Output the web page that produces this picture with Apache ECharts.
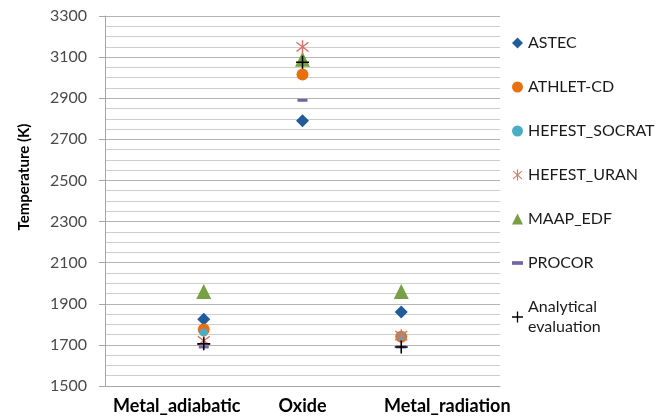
<!DOCTYPE html>
<html><head><meta charset="utf-8">
<script src="https://cdn.jsdelivr.net/npm/echarts@6/dist/echarts.min.js"></script>
<style>html,body{margin:0;padding:0;background:#fff}#c{width:667px;height:416px}</style>
</head><body><div id="c"></div>
<script>
// categories placed at x = 1, 2, 3
const categories = ['Metal_adiabatic', 'Oxide', 'Metal_radiation'];
const seriesNames = ['ASTEC', 'ATHLET-CD', 'HEFEST_SOCRAT', 'HEFEST_URAN', 'MAAP_EDF', 'PROCOR', 'Analytical evaluation'];
const astec = [1825, 2790, 1860];
const athlet = [1775, 3015, 1740];
const socrat = [1760, null, 1740];
const uran = [1720, 3150, 1745];
const maap = [1960, 3090, 1960];
const procor = [1690, 2890, 1690];
const analytical = [1705, 3075, 1690];
const yTicks = [1500, 1700, 1900, 2100, 2300, 2500, 2700, 2900, 3100, 3300];

const values = [astec, athlet, socrat, uran, maap, procor, analytical];
const colors = ['#1F5C99', '#E8700F', '#4BACC6', '#D9746E', '#77A044', '#7464A4', '#000000'];
const asterisk = 'path://M4.5,0 L5.5,0 L5.5,10 L4.5,10 Z M1.33,1.12 L9.33,8.12 L8.67,8.88 L0.67,1.88 Z M0.67,8.12 L8.67,1.12 L9.33,1.88 L1.33,8.88 Z';
const plus = 'path://M4.4,0 L5.6,0 L5.6,4.4 L10,4.4 L10,5.6 L5.6,5.6 L5.6,10 L4.4,10 L4.4,5.6 L0,5.6 L0,4.4 L4.4,4.4 Z';
const dash = 'path://M0,0 L9,0 L9,3 L0,3 Z';
const symbols = ['diamond', 'circle', 'circle', asterisk, 'triangle', dash, plus];
const sizes = [13, 12, 8, 13, 15, [10, 3], 13];

const series = seriesNames.map((n, i) => ({
  name: n, type: 'scatter', symbol: symbols[i], symbolSize: sizes[i],
  itemStyle: { color: colors[i], opacity: 1 },
  z: [2, 3, 4, 5, 1, 6, 7][i],
  data: values[i].map((v, k) => [k + 1, v])
}));

const chart = echarts.init(document.getElementById('c'));
chart.setOption({
  animation: false,
  textStyle: { fontFamily: 'Lato' },
  grid: { left: 105, right: 167, top: 16, bottom: 30 },
  xAxis: {
    type: 'value', min: 0, max: 4, interval: 1,
    axisLine: { lineStyle: { color: '#A6A6A6' } },
    axisTick: { show: false },
    splitLine: { show: false },
    axisLabel: {
      margin: 11, color: '#000', fontWeight: 'bold', fontSize: 18, fontFamily: 'Lato',
      formatter: v => {
        const c = categories[v - 1];
        if (!c) return '';
        if (v === 1) return '{l|' + c + '}';
        if (v === 3) return '{r|' + c + '}';
        return c;
      },
      rich: {
        l: { padding: [0, 54, 0, 0], fontWeight: 'bold', fontSize: 18, color: '#000', fontFamily: 'Lato' },
        r: { padding: [0, 0, 0, 92], fontWeight: 'bold', fontSize: 18, color: '#000', fontFamily: 'Lato' }
      }
    }
  },
  yAxis: {
    type: 'value', min: yTicks[0], max: yTicks[yTicks.length - 1], interval: 200,
    name: 'Temperature (K)', nameLocation: 'middle', nameGap: 73,
    nameTextStyle: { fontWeight: 'bold', fontSize: 15, color: '#000', fontFamily: 'Lato', padding: [0, 0, 0, 48] },
    axisLine: { show: true, lineStyle: { color: '#A6A6A6' } },
    axisTick: { show: true, length: 6, lineStyle: { color: '#A6A6A6' } },
    axisLabel: { margin: 18, color: '#4A4A4A', fontSize: 16, fontFamily: 'Lato', formatter: v => String(v) },
    splitLine: { lineStyle: { color: '#B4B4B4' } },
    minorTick: { show: false, splitNumber: 4 },
    minorSplitLine: { show: true, lineStyle: { color: '#CDCDCD' } }
  },
  legend: {
    orient: 'vertical', left: 512, top: 33, itemGap: 24,
    itemWidth: 11, itemHeight: 11, padding: 0,
    textStyle: { fontSize: 16, color: '#1A1A1A', fontFamily: 'Lato', lineHeight: 20 },
    formatter: n => n === 'Analytical evaluation' ? 'Analytical\nevaluation' : n,
    data: seriesNames.map(n => ({ name: n }))
  },
  series: series
});
</script></body></html>
